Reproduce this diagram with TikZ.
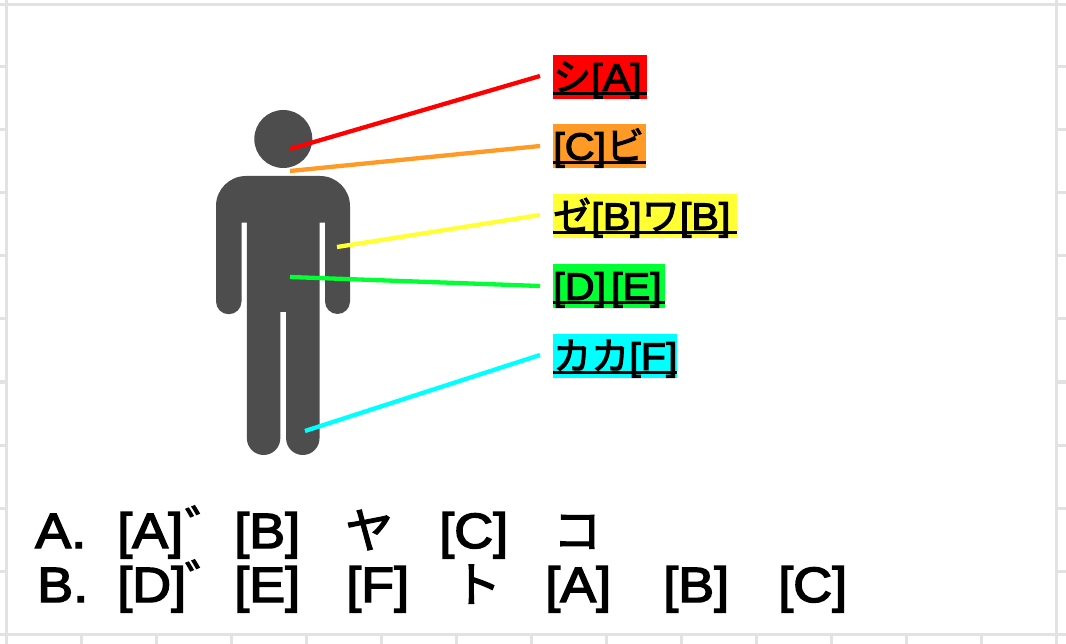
\documentclass[tikz,border=0pt]{standalone}
\usepackage{fontspec}
\setmainfont{Liberation Sans}[FakeBold=3,FakeStretch=1.09]
\newfontfamily\jp{Noto Sans CJK JP}[FakeBold=2.5]
\newcommand{\fa}{\fontsize{38}{38}\selectfont}
\newcommand{\fb}{\fontsize{49.5}{49.5}\selectfont}
\newcommand{\fc}{\fontsize{48}{48}\selectfont}
\definecolor{grid}{HTML}{E2E2E2}
\definecolor{fig}{HTML}{4D4D4D}
\definecolor{cr}{HTML}{FF0000}
\definecolor{co}{HTML}{FF9A26}
\definecolor{cy}{HTML}{FFFF33}
\definecolor{cg}{HTML}{00FF33}
\definecolor{cc}{HTML}{00FFFF}
\newcommand{\ulab}[1]{\rule[-7.5pt]{0pt}{43pt}\rlap{\rule[-4.5pt]{\linewidth}{3pt}}#1}
\tikzset{
  x=1pt,y=-1pt,
  gridline/.style={draw=grid,line width=3pt},
  labelbox/.style={anchor=north west,inner sep=0pt,align=left,font=\fa},
  leader/.style={line width=4.3pt},
  ans/.style={anchor=base west,inner sep=0pt,font=\fb},
  dak/.style={anchor=base west,inner sep=0pt,font=\jp\fc},
}
\begin{document}
\begin{tikzpicture}
\useasboundingbox (0,0) rectangle (1066,644);
\fill[white] (0,0) rectangle (1066,644);
% sheet grid
\draw[gridline] (0,4.5) -- (1066,4.5);
\draw[gridline] (0,634.5) -- (1066,634.5);
\draw[gridline] (6.5,0) -- (6.5,644);
\draw[gridline] (1056.5,0) -- (1056.5,644);
\foreach \yy in {67,130,193,256,319,382,445,508,571}{
  \draw[gridline] (0,\yy) -- (6,\yy);
  \draw[gridline] (1057,\yy) -- (1066,\yy);
}
\foreach \xx in {81,156,231,306,381,456,531,606,681,756,831,906,981}{
  \draw[gridline] (\xx,635) -- (\xx,644);
}
% figure
\fill[fig] (283.3,139) circle[radius=29];
\fill[fig] (246,176) -- (320,176) arc[start angle=-90,end angle=0,radius=30]
  -- (350,301.5) arc[start angle=0,end angle=180,radius=12.5]
  -- (325,222.7) -- (319.5,222.7) -- (319.5,438.3)
  arc[start angle=0,end angle=180,radius=16.7]
  -- (286,312) -- (280.3,312) -- (280.3,438.3)
  arc[start angle=0,end angle=180,radius=16.7]
  -- (246.9,222.7) -- (241.5,222.7) -- (241.5,301.5)
  arc[start angle=0,end angle=180,radius=12.75]
  -- (216,206) arc[start angle=180,end angle=270,radius=30] -- cycle;
% labels
\node[labelbox,fill=cr,text width=94pt] (la) at (553,55) {\ulab{{\jp シ}[A]}};
\node[labelbox,fill=co,text width=93pt] (lc) at (553,124) {\ulab{[C]{\jp ビ}}};
\node[labelbox,fill=cy,text width=184pt] (lb) at (553,194) {\ulab{{\jp ゼ}[B]{\jp ワ}[B]}};
\node[labelbox,fill=cg,text width=112pt] (ld) at (553,264) {\ulab{[D]\hspace{5pt}[E]}};
\node[labelbox,fill=cc,text width=124pt] (lf) at (553,334) {\ulab{{\jp カカ}[F]}};
% leaders
\coordinate (pa) at (290,149); \coordinate (qa) at (540,76);
\coordinate (pc) at (290,171); \coordinate (qc) at (540,146);
\coordinate (pb) at (337,247); \coordinate (qb) at (540,215);
\coordinate (pd) at (290,277); \coordinate (qd) at (540,286);
\coordinate (pf) at (305,431); \coordinate (qf) at (540,355);
\draw[leader,cr] (pa) -- (qa);
\draw[leader,co] (pc) -- (qc);
\draw[leader,cy] (pb) -- (qb);
\draw[leader,cg] (pd) -- (qd);
\draw[leader,cc] (pf) -- (qf);
% answers
\node[ans] (a0) at (35,548) {A.};
\node[ans] (a1) at (117,548) {[A]};
\node[dak] (a1d) at (185,546) {゛};
\node[ans] (a2) at (234,548) {[B]};
\node[ans,font=\jp\fc] (a3) at (345,548) {ヤ};
\node[ans] (a4) at (439,548) {[C]};
\node[ans,font=\jp\fc] (a5) at (553,548) {コ};
\node[ans] (b0) at (37,602) {B.};
\node[ans] (b1) at (117,602) {[D]};
\node[dak] (b1d) at (185,600) {゛};
\node[ans] (b2) at (234,602) {[E]};
\node[ans] (b3) at (346,602) {[F]};
\node[ans,font=\jp\fc] (b4) at (453,602) {ト};
\node[ans] (b5) at (545,602) {[A]};
\node[ans] (b6) at (663,602) {[B]};
\node[ans] (b7) at (778,602) {[C]};
\end{tikzpicture}
\end{document}
